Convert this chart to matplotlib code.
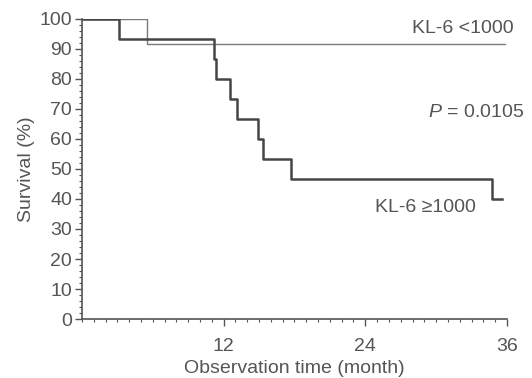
import matplotlib
matplotlib.use("Agg")
import matplotlib.pyplot as plt
from matplotlib.ticker import MultipleLocator, FixedLocator

# Data: Kaplan-Meier step curves (time in months, survival %)
low_time = [0, 5.5, 5.5, 35.8]
low_surv = [100, 100, 91.7, 91.7]

high_time = [0, 3.1, 11.2, 11.35, 12.5, 13.1, 14.9, 15.3, 17.7, 34.7, 35.6]
high_surv = [100, 93.3, 86.7, 80.0, 73.3, 66.7, 60.0, 53.3, 46.7, 40.0, 40.0]

x_ticks = [12, 24, 36]
y_ticks = [0, 10, 20, 30, 40, 50, 60, 70, 80, 90, 100]

plt.rcParams['font.family'] = ['Liberation Sans', 'DejaVu Sans']
plt.rcParams['mathtext.fontset'] = 'custom'
plt.rcParams['mathtext.it'] = 'Liberation Sans:italic'
plt.rcParams['mathtext.rm'] = 'Liberation Sans'
gray = '#555555'
fs = 14

fig = plt.figure(figsize=(5.32, 3.78), dpi=100)
ax = fig.add_axes([0.154, 0.156, 0.799, 0.794])

ax.step(low_time, low_surv, where='post', color='#7a7a7a', lw=1.0)
ax.step(high_time, high_surv, where='post', color='#454545', lw=1.8)

ax.set_xlim(0, 36)
ax.set_ylim(0, 100)
ax.xaxis.set_major_locator(FixedLocator(x_ticks))
ax.xaxis.set_minor_locator(MultipleLocator(1))
ax.yaxis.set_major_locator(FixedLocator(y_ticks))
ax.yaxis.set_minor_locator(MultipleLocator(2))

for s in ['top', 'right']:
    ax.spines[s].set_visible(False)
for s in ['left', 'bottom']:
    ax.spines[s].set_color(gray)
    ax.spines[s].set_linewidth(1.2)
    ax.spines[s].set_clip_on(False)

ax.tick_params(axis='both', which='major', direction='out', length=5, width=1.0,
               color=gray, labelcolor=gray, labelsize=fs)
ax.tick_params(axis='both', which='minor', direction='out', length=2.5, width=0.8,
               color=gray)
ax.tick_params(axis='x', which='major', pad=9)
ax.tick_params(axis='y', which='major', pad=2)

ax.set_xlabel('Observation time (month)', color=gray, fontsize=fs, labelpad=3)
ax.set_ylabel('Survival (%)', color=gray, fontsize=fs, labelpad=3)

ax.text(36.6, 96.7, 'KL-6 <1000', color=gray, fontsize=fs, ha='right', va='center')
ax.text(29.3, 68.8, '$P$ = 0.0105', color=gray, fontsize=fs, ha='left', va='center')
ax.text(24.8, 37.2, 'KL-6 \u22651000', color=gray, fontsize=fs, ha='left', va='center')

fig.savefig('out.png', dpi=100)
